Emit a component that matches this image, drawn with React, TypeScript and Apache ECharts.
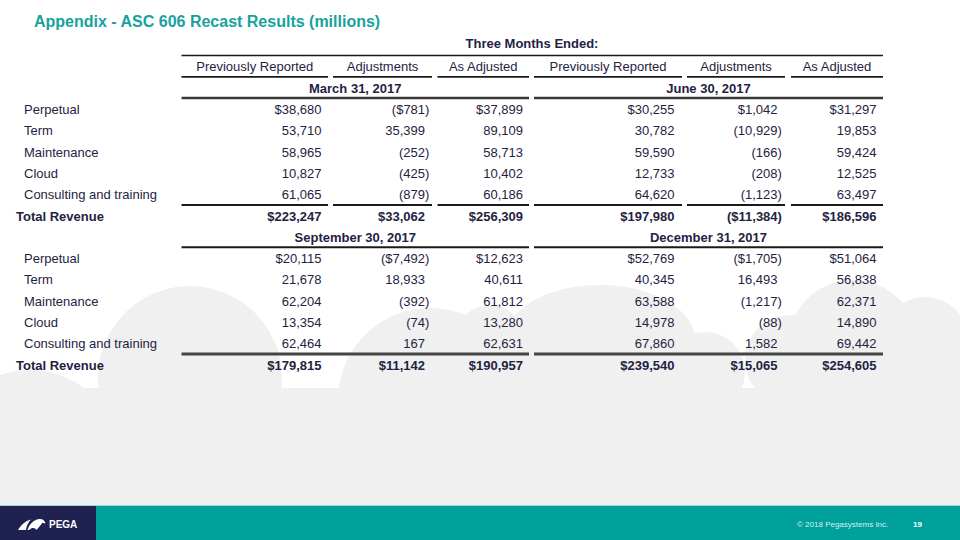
import React, { useEffect, useRef } from "react";
import * as echarts from "echarts";

// ---------- Data ----------
const title = "Appendix - ASC 606 Recast Results (millions)";
const superHeader = "Three Months Ended:";
const columnHeaders = ["Previously Reported", "Adjustments", "As Adjusted"];
const rowLabels = ["Perpetual", "Term", "Maintenance", "Cloud", "Consulting and training"];
const totalLabel = "Total Revenue";
const periods = ["March 31, 2017", "June 30, 2017", "September 30, 2017", "December 31, 2017"];

const mar2017Prev = [38680, 53710, 58965, 10827, 61065, 223247];
const mar2017Adj = [-781, 35399, -252, -425, -879, 33062];
const mar2017AsAdj = [37899, 89109, 58713, 10402, 60186, 256309];

const jun2017Prev = [30255, 30782, 59590, 12733, 64620, 197980];
const jun2017Adj = [1042, -10929, -166, -208, -1123, -11384];
const jun2017AsAdj = [31297, 19853, 59424, 12525, 63497, 186596];

const sep2017Prev = [20115, 21678, 62204, 13354, 62464, 179815];
const sep2017Adj = [-7492, 18933, -392, -74, 167, 11142];
const sep2017AsAdj = [12623, 40611, 61812, 13280, 62631, 190957];

const dec2017Prev = [52769, 40345, 63588, 14978, 67860, 239540];
const dec2017Adj = [-1705, 16493, -1217, -88, 1582, 15065];
const dec2017AsAdj = [51064, 56838, 62371, 14890, 69442, 254605];

const footerText = "© 2018 Pegasystems Inc.";
const pageNumber = "19";

// ---------- Helpers ----------
const FONT = '"Liberation Sans", Arial, sans-serif';
const NAVY = "#1f2342";
const TEAL = "#17a29e";

function fmt(v: number, dollar: boolean): string {
  const s = Math.abs(v).toLocaleString("en-US");
  const body = (dollar ? "$" : "") + s;
  return v < 0 ? "(" + body + ")" : body;
}

export default function App() {
  const ref = useRef<HTMLDivElement>(null);

  useEffect(() => {
    if (!ref.current) return;
    const chart = echarts.init(ref.current, null, { renderer: "svg" });

    echarts.graphic.registerShape(
      "pegaLogo",
      echarts.graphic.extendPath(
        "M0 12 C3 7 7 3 13 1.5 C10 4.5 8.5 8 8 12 Z M9.5 12 C11 7 15 2 21 1 C24.5 0.6 27 2.5 27.5 5.5 L24.5 4.8 C22.5 7.5 20.5 10 18.5 12 C17 9.5 14 9 11 12 Z",
        {}
      )
    );

    const els: any[] = [];

    // Background clouds
    const cloud = "#f0f0f0";
    els.push({ type: "rect", shape: { x: 0, y: 388, width: 960, height: 120 }, style: { fill: cloud }, z: 0 });
    els.push({ type: "rect", shape: { x: 870, y: 350, width: 90, height: 60 }, style: { fill: cloud }, z: 0 });
    const circles = [
      [30, 460, 90], [190, 378, 92], [430, 400, 92], [490, 340, 35], [705, 372, 40],
      [790, 360, 45], [853, 345, 65], [925, 340, 43], [975, 375, 60],
    ];
    circles.forEach(([cx, cy, r]) =>
      els.push({ type: "circle", shape: { cx, cy, r }, style: { fill: cloud }, z: 0 })
    );
    els.push({ type: "ellipse", shape: { cx: 600, cy: 340, rx: 95, ry: 55 }, style: { fill: cloud }, z: 0 });
    els.push({ type: "rect", shape: { x: 505, y: 340, width: 200, height: 60 }, style: { fill: cloud }, z: 0 });

    // Title
    els.push({
      type: "text", x: 34, y: 21, z: 10,
      style: { text: title, font: `bold 16px ${FONT}`, fill: TEAL, align: "left", verticalAlign: "middle" },
    });

    // Column geometry
    const colLeft = [181.5, 333, 437.5, 534, 687, 791];
    const colRight = [328, 432, 529, 682, 785, 883];
    const digitRight = [321.5, 425, 523, 674.5, 777.5, 876.5];
    const halfLeft = [181.5, 534];
    const halfRight = [529, 883];

    const line = (x1: number, x2: number, y: number, w: number, c: string) =>
      els.push({ type: "line", shape: { x1, y1: y, x2, y2: y }, style: { stroke: c, lineWidth: w }, z: 10 });
    const text = (t: string, x: number, y: number, align: string, bold: boolean, size = 13, fill = NAVY) =>
      els.push({
        type: "text", x, y, z: 10,
        style: { text: t, font: `${bold ? "bold " : ""}${size}px ${FONT}`, fill, align, verticalAlign: "middle" },
      });

    // Super header
    text(superHeader, 532, 43.5, "center", true);
    line(181.5, 883, 55.5, 1.6, "#1a1a1a");

    // Column headers
    for (let i = 0; i < 6; i++) {
      text(columnHeaders[i % 3], (colLeft[i] + colRight[i]) / 2, 66.5, "center", false);
      line(colLeft[i], colRight[i], 76.8, 1.8, "#1a1a1a");
    }

    const sections = [
      { dates: [periods[0], periods[1]], cols: [mar2017Prev, mar2017Adj, mar2017AsAdj, jun2017Prev, jun2017Adj, jun2017AsAdj], dateY: 88, dateLineY: 98, row0: 109.3, preTotalY: 205, totalY: 216, splitPreTotal: true, dateLineW: 2.4, dateLineC: "#3a3a3a", preW: 2, preC: "#1a1a1a" },
      { dates: [periods[2], periods[3]], cols: [sep2017Prev, sep2017Adj, sep2017AsAdj, dec2017Prev, dec2017Adj, dec2017AsAdj], dateY: 237, dateLineY: 247.3, row0: 258.3, preTotalY: 354, totalY: 365.3, splitPreTotal: false, dateLineW: 2, dateLineC: "#1a1a1a", preW: 3, preC: "#444444" },
    ];
    const step = 21.4;

    sections.forEach((s) => {
      for (let h = 0; h < 2; h++) {
        text(s.dates[h], (halfLeft[h] + halfRight[h]) / 2, s.dateY, "center", true);
        line(halfLeft[h], halfRight[h], s.dateLineY, s.dateLineW, s.dateLineC);
        if (!s.splitPreTotal) line(halfLeft[h], halfRight[h], s.preTotalY, s.preW, s.preC);
      }
      if (s.splitPreTotal) for (let i = 0; i < 6; i++) line(colLeft[i], colRight[i], s.preTotalY, s.preW, s.preC);

      rowLabels.forEach((lab, r) => text(lab, 24, s.row0 + r * step, "left", false));
      text(totalLabel, 16, s.totalY, "left", true);

      s.cols.forEach((vals, c) => {
        vals.forEach((v, r) => {
          const isTotal = r === vals.length - 1;
          const dollar = r === 0 || isTotal;
          const y = isTotal ? s.totalY : s.row0 + r * step;
          const x = digitRight[c] + (v < 0 ? 4.4 : 0);
          text(fmt(v, dollar), x, y, "right", isTotal);
        });
      });
    });

    // Footer
    els.push({ type: "rect", shape: { x: 0, y: 505, width: 960, height: 35 }, style: { fill: "#00a19d" }, z: 5 });
    els.push({ type: "rect", shape: { x: 0, y: 505, width: 960, height: 1 }, style: { fill: "#9fdcd9" }, z: 6 });
    els.push({ type: "rect", shape: { x: 0, y: 506, width: 96, height: 34 }, style: { fill: "#1f2150" }, z: 6 });
    els.push({ type: "pegaLogo", x: 18, y: 518, scaleX: 1, scaleY: 1, style: { fill: "#ffffff" }, z: 7 });
    text("PEGA", 49, 524.5, "left", true, 10, "#ffffff");
    text(footerText, 797, 524, "left", false, 8, "#d4efee");
    text(pageNumber, 913, 524, "left", true, 8, "#ffffff");

    chart.setOption({
      animation: false,
      backgroundColor: "#ffffff",
      graphic: { elements: els },
    });

    return () => chart.dispose();
  }, []);

  return <div ref={ref} style={{ position: "absolute", left: 0, top: 0, width: 960, height: 540 }} />;
}
